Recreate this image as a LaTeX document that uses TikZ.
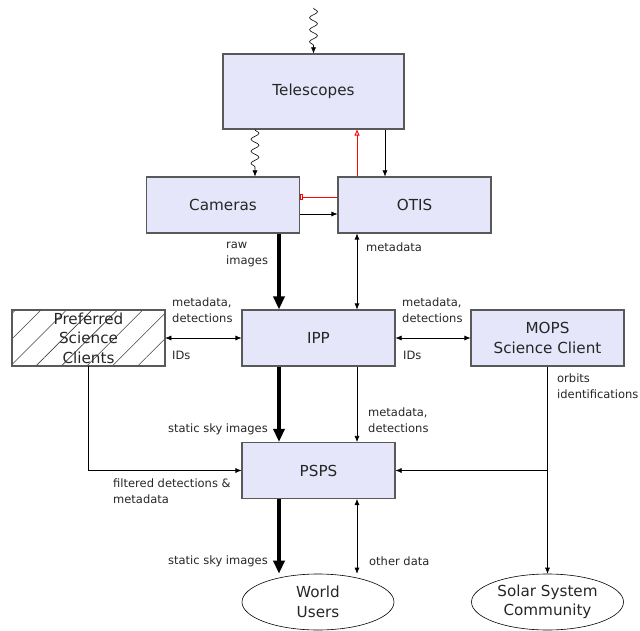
\documentclass[tikz,border=0pt]{standalone}
\usepackage{fontspec}
\setmainfont{DejaVu Sans}
\usetikzlibrary{arrows.meta,shapes.geometric,patterns.meta,decorations.pathmorphing}
\definecolor{boxfill}{RGB}{230,230,250}
\tikzset{
	blk/.style={draw=black!65, line width=1.1pt, fill=boxfill, inner sep=0pt, minimum width=153pt, minimum height=56pt, align=center, text=black!85, font=\fontsize{15.2}{19.5}\selectfont},
	usr/.style={ellipse, draw=black, line width=0.6pt, inner sep=0pt, minimum width=152pt, minimum height=56pt, align=center, text=black!85, font=\fontsize{15.2}{19.5}\selectfont},
	lbl/.style={inner sep=0pt, anchor=west, align=left, text=black!85, font=\fontsize{11.5}{16}\selectfont},
	flow/.style={line width=0.6pt, -{Latex[length=6pt,width=5pt]}},
	flows/.style={line width=0.6pt, {Latex[length=6pt,width=5pt]}-{Latex[length=6pt,width=5pt]}},
	bulk/.style={line width=3.6pt, -{Triangle[length=13pt,width=11pt]}},
	wave/.style={line width=0.6pt, decorate, decoration={snake, amplitude=4pt, segment length=12pt, post length=7pt}, -{Latex[length=6pt,width=5pt]}},
	ctrl/.style={line width=0.9pt, red},
}
\begin{document}
\begin{tikzpicture}[x=1pt, y=-1pt]
			%%%%% START %%%%%
			\useasboundingbox (0, 0) rectangle (640, 631);
			
			% columns and rows used by the connectors
			\coordinate (sky) at (313.5, 8);
			\coordinate (xw) at (255, 0);
			\coordinate (xl) at (279, 0);
			\coordinate (xr) at (357, 0);
			\coordinate (xo) at (385, 0);
			\coordinate (yr) at (0, 197);
			\coordinate (yc) at (0, 214);
			
			\node[blk, minimum width=181pt, minimum height=75pt] (tel) at (313.5, 91.5) {Telescopes};
			\node[blk] (cam) at (223, 205) {Cameras};
			\node[blk] (otis) at (414.5, 205) {OTIS};
			
			\node[blk, fill=white, pattern={Lines[angle=45, distance=18pt, line width=0.6pt]}, pattern color=black!75] (psc) at (88.5, 338) {Preferred\\Science\\Clients};
			\node[blk] (ipp) at (318.5, 338) {IPP};
			\node[blk] (mops) at (547.5, 338) {MOPS\\Science Client};
			
			\node[blk] (psps) at (318.5, 470.5) {PSPS};
			
			\node[usr] (world) at (318, 602) {World\\Users};
			\node[usr] (ssc) at (547.5, 602) {Solar System\\Community};
			
			% light and control
			\draw[wave] (sky) -- (tel.north);
			\draw[wave] (tel.south -| xw) -- (cam.north -| xw);
			\draw[ctrl, -{Triangle[open, length=6pt, width=5pt]}] (otis.north -| xr) -- (tel.south -| xr);
			\draw[flow] (tel.south -| xo) -- (otis.north -| xo);
			\draw[ctrl, -{Square[open, length=3pt, width=5pt]}] (otis.west |- yr) -- (cam.east |- yr);
			\draw[flow] (cam.east |- yc) -- (otis.west |- yc);
			
			% data
			\draw[bulk] (cam.south -| xl) -- (ipp.north -| xl);
			\draw[flows] (otis.south -| xr) -- (ipp.north -| xr);
			\draw[flows] (psc.east) -- (ipp.west);
			\draw[flows] (ipp.east) -- (mops.west);
			\draw[bulk] (ipp.south -| xl) -- (psps.north -| xl);
			\draw[flow] (ipp.south -| xr) -- (psps.north -| xr);
			\draw[flow] (psc.south) -- (psc.south |- psps.west) -- (psps.west);
			\draw[flow] (mops.south) -- (ssc.north);
			\draw[flow] (mops.south |- psps.east) -- (psps.east);
			\draw[bulk] (psps.south -| xl) -- (world.north -| xl);
			\draw[flows] (psps.south -| xr) -- (world.north -| xr);
			
			\node[lbl] (l1) at (226, 254) {raw\\images};
			\node[lbl] (l2) at (366, 247) {metadata};
			\node[lbl] (l3) at (172, 310) {metadata,\\detections};
			\node[lbl] (l4) at (172, 355) {IDs};
			\node[lbl] (l5) at (402, 310) {metadata,\\detections};
			\node[lbl] (l6) at (403, 355) {IDs};
			\node[lbl] (l7) at (557, 386) {orbits\\identifications};
			\node[lbl, anchor=east] (l8) at (268, 429) {static sky images};
			\node[lbl] (l9) at (368, 420) {metadata,\\detections};
			\node[lbl] (l10) at (113, 491) {filtered detections \&\\metadata};
			\node[lbl, anchor=east] (l11) at (268, 561) {static sky images};
			\node[lbl] (l12) at (369, 561) {other data};
			
			%%%%% END %%%%%
		\end{tikzpicture}
\end{document}
